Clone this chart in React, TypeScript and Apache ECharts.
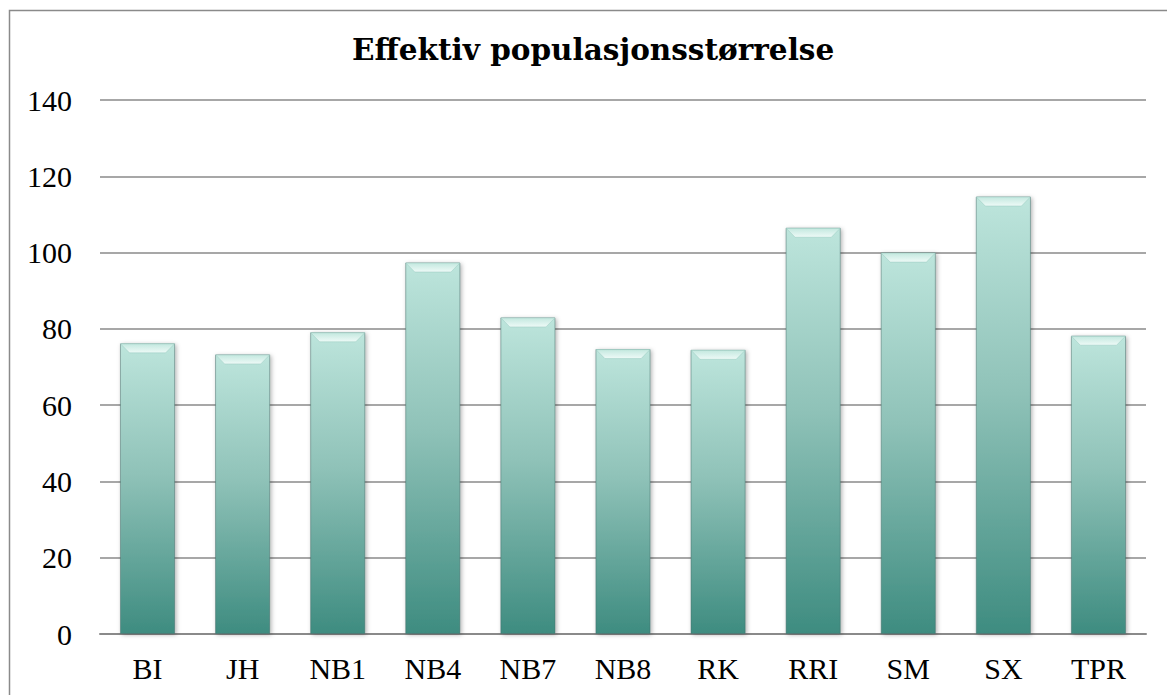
import React, { useEffect, useRef } from "react";
import * as echarts from "echarts";

const titleText = "Effektiv populasjonsstørrelse";
const categories = ["BI", "JH", "NB1", "NB4", "NB7", "NB8", "RK", "RRI", "SM", "SX", "TPR"];
const values = [76.2, 73.3, 79.1, 97.4, 83.0, 74.7, 74.5, 106.5, 100.0, 114.7, 78.2];
const yMin = 0;
const yMax = 140;
const yStep = 20;

const BAR_RATIO = 0.58;

export default function App() {
  const ref = useRef<HTMLDivElement>(null);
  useEffect(() => {
    if (!ref.current) return;
    const chart = echarts.init(ref.current, null, { renderer: "svg" });
    const labelFont = "'Liberation Serif', serif";
    chart.setOption({
      animation: false,
      backgroundColor: "#ffffff",
      title: {
        text: titleText,
        left: 347,
        top: 29,
        textStyle: {
          fontFamily: "'DejaVu Serif', serif",
          fontWeight: "bold",
          fontSize: 29.5,
          color: "#000000",
        },
      },
      graphic: [
        {
          type: "rect",
          silent: true,
          shape: { x: 9.5, y: 10.5, width: 1300, height: 800 },
          style: { fill: "none", stroke: "#8a8a8a", lineWidth: 1.5 },
          z: 100,
        },
      ],
      grid: { left: 100, right: 21, top: 100, bottom: 61, containLabel: false },
      xAxis: {
        type: "category",
        data: categories,
        axisLine: { show: true, lineStyle: { color: "#8a8a8a", width: 2 } },
        axisTick: { show: false },
        axisLabel: {
          color: "#000000",
          fontFamily: labelFont,
          fontSize: 30,
          margin: 19,
        },
      },
      yAxis: {
        type: "value",
        min: yMin,
        max: yMax,
        interval: yStep,
        axisLine: { show: false },
        axisTick: { show: false },
        splitLine: { show: true, lineStyle: { color: "#8a8a8a", width: 1.5 } },
        axisLabel: {
          color: "#000000",
          fontFamily: labelFont,
          fontSize: 30,
          margin: 28,
        },
      },
      series: [
        {
          type: "bar",
          data: values,
          barWidth: BAR_RATIO * 100 + "%",
          itemStyle: {
            color: new echarts.graphic.LinearGradient(0, 0, 0, 1, [
              { offset: 0, color: "#bde5dc" },
              { offset: 0.45, color: "#8fc2b8" },
              { offset: 1, color: "#3e8c80" },
            ]),
            borderColor: "rgba(70,110,105,0.5)",
            borderWidth: 1,
            shadowBlur: 4,
            shadowColor: "rgba(0,0,0,0.3)",
            shadowOffsetX: 1.5,
            shadowOffsetY: 1,
          },
          z: 2,
        },
        {
          type: "custom",
          data: values.map((v, i) => [i, v]),
          z: 3,
          silent: true,
          renderItem: (params: any, api: any) => {
            const idx = api.value(0);
            const val = api.value(1);
            const top = api.coord([idx, val]);
            const w = api.size([1, 0])[0] * BAR_RATIO;
            const x0 = top[0] - w / 2 + 0.5;
            const x1 = top[0] + w / 2 - 0.5;
            const y0 = top[1] + 0.5;
            const d = 9;
            return {
              type: "polygon",
              shape: {
                points: [
                  [x0, y0],
                  [x1, y0],
                  [x1 - d, y0 + d],
                  [x0 + d, y0 + d],
                ],
              },
              style: {
                fill: new echarts.graphic.LinearGradient(0, 0, 0, 1, [
                  { offset: 0, color: "#c3e8df" },
                  { offset: 1, color: "#eefaf7" },
                ]),
                stroke: "rgba(150,200,190,0.6)",
                lineWidth: 0.8,
              },
            };
          },
        },
      ],
    });
    return () => chart.dispose();
  }, []);
  return (
    <div
      ref={ref}
      style={{ position: "fixed", left: 0, top: 0, width: 1167, height: 695 }}
    />
  );
}
